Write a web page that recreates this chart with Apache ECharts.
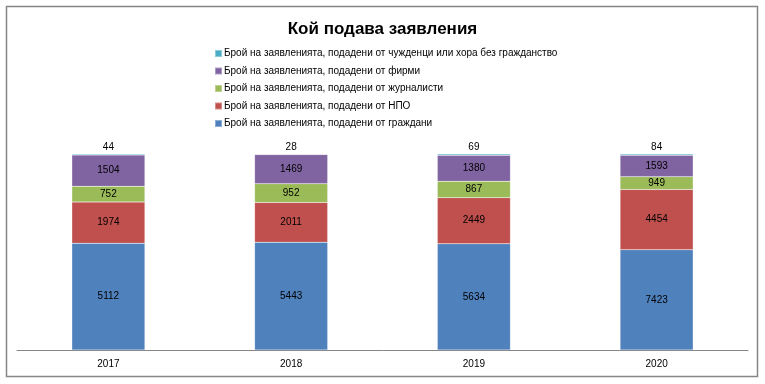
<!DOCTYPE html>
<html><head><meta charset="utf-8">
<script src="https://cdn.jsdelivr.net/npm/echarts@6/dist/echarts.min.js"></script>
<style>html,body{margin:0;padding:0;background:#fff}#c{width:765px;height:384px}</style>
</head><body><div id="c"></div>
<script>
const categories = ['2017', '2018', '2019', '2020'];
const citizens = [5112, 5443, 5634, 7423];
const ngos = [1974, 2011, 2449, 4454];
const journalists = [752, 952, 867, 949];
const companies = [1504, 1469, 1380, 1593];
const foreigners = [44, 28, 69, 84];
const seriesNames = [
  'Брой на заявленията, подадени от граждани',
  'Брой на заявленията, подадени от НПО',
  'Брой на заявленията, подадени от журналисти',
  'Брой на заявленията, подадени от фирми',
  'Брой на заявленията, подадени от чужденци или хора без гражданство'
];
const colors = ['#4F81BD', '#C0504D', '#9BBB59', '#8064A2', '#4BACC6'];
const raw = [citizens, ngos, journalists, companies, foreigners];
const totals = categories.map((_, i) => raw.reduce((s, a) => s + a[i], 0));

const chart = echarts.init(document.getElementById('c'));
const font = 'Liberation Sans, Arial, sans-serif';
chart.setOption({
  animation: false,
  title: {
    text: 'Кой подава заявления', left: 'center', top: 16,
    textStyle: { fontFamily: font, fontSize: 17, fontWeight: 'bold', color: '#000' }
  },
  legend: {
    orient: 'vertical', left: 209, top: 43.5, itemGap: 7.5,
    itemWidth: 7, itemHeight: 7, icon: 'rect',
    data: seriesNames.slice().reverse(),
    textStyle: { fontFamily: font, fontSize: 10, color: '#000', padding: [0, 0, 0, -3] }
  },
  graphic: [{
    type: 'rect', shape: { x: 6.5, y: 6.5, width: 751, height: 370 },
    style: { fill: 'none', stroke: '#868686', lineWidth: 1.5 }, silent: true, z: -1
  }],
  grid: { left: 17, right: 17, top: 154, bottom: 34 },
  xAxis: {
    type: 'category', data: categories,
    axisLine: { lineStyle: { color: '#868686', width: 1 } },
    axisTick: { show: false },
    axisLabel: { fontFamily: font, fontSize: 10, color: '#000', margin: 9 }
  },
  yAxis: { type: 'value', min: 0, max: 100, show: false, splitLine: { show: false } },
  series: raw.map((arr, k) => ({
    name: seriesNames[k], type: 'bar', stack: 'all', barWidth: '40%',
    itemStyle: { color: colors[k], borderColor: 'rgba(255,255,255,0.35)', borderWidth: 0.5 },
    data: arr.map((v, i) => ({ value: v / totals[i] * 100, raw: v })),
    label: {
      show: true, position: k === 4 ? 'top' : 'inside', distance: 2,
      fontFamily: font, fontSize: 10, color: '#000',
      formatter: p => p.data.raw
    }
  }))
});
</script></body></html>
